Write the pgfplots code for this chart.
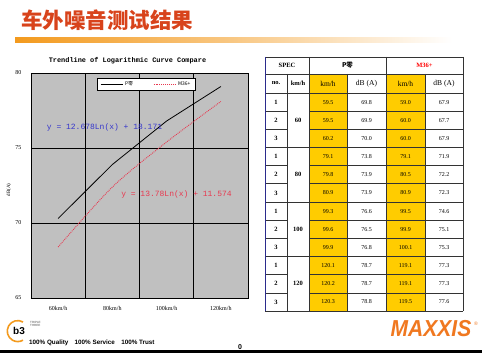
\documentclass[border=0pt]{standalone}
\usepackage{fontspec}
\setmainfont{Liberation Serif}
\setsansfont{Liberation Sans}
\setmonofont{Liberation Mono}
\newfontfamily\cjk{Noto Sans CJK SC}
\usepackage{pgfplots}
\pgfplotsset{compat=1.18}
\definecolor{titlered}{HTML}{D8431B}
\definecolor{barorange}{HTML}{F39A1E}
\definecolor{plotgray}{HTML}{C0C0C0}
\definecolor{eqblue}{HTML}{3535CC}
\definecolor{eqred}{HTML}{E8384F}
\definecolor{cellyellow}{HTML}{FFCC00}
\definecolor{maxxis}{HTML}{F07820}
\definecolor{navy}{HTML}{2B2B8C}
\begin{document}
\begin{tikzpicture}[x=1pt,y=1pt]
\path[use as bounding box,fill=white] (0,0) rectangle (482,353);
% slide title
\node[anchor=west,text=titlered,inner sep=0pt] at (21,333) {\cjk\bfseries\fontsize{21.5}{24}\selectfont 车外噪音测试结果};
\shade[left color=barorange,right color=white,middle color=barorange!55] (15,310) rectangle (452,315);
% chart title
\node at (127.5,292) {\ttfamily\bfseries\fontsize{6.9}{8}\selectfont Trendline of Logarithmic Curve Compare};
\node[rotate=90] at (9,163) {\fontsize{5}{6}\selectfont dB(A)};
\begin{axis}[at={(31pt,55pt)},anchor=south west,scale only axis,
  width=217pt,height=225pt,
  xmin=0.5,xmax=4.5,ymin=65,ymax=80,
  xtick={1,2,3,4},xticklabels={60km/h,80km/h,100km/h,120km/h},
  minor xtick={1.5,2.5,3.5},xminorgrids=true,xmajorgrids=false,
  ytick={65,70,75,80},ymajorgrids=true,
  grid style={black,line width=0.8pt},
  minor grid style={black,line width=0.8pt},
  tick style={draw=none},
  axis line style={black,line width=0.8pt},
  axis background/.style={fill=plotgray},
  /pgf/number format/assume math mode=true,
  tick label style={font=\fontsize{6}{7}\selectfont},
  xticklabel style={yshift=-5pt},
  yticklabel style={xshift=-6pt},
  legend columns=2,
  legend style={at={(0.304,0.978)},anchor=north west,draw=black,fill=white,
    line width=0.6pt,font=\cjk\fontsize{5}{6}\selectfont,inner ysep=1.5pt,
    /tikz/every even column/.append style={column sep=18pt}},
  legend image code/.code={\draw[#1] (0pt,0pt) -- (22pt,0pt);},
]
\addplot[black,line width=0.8pt] coordinates {(1,70.3) (2,73.9) (3,76.8) (4,79.1)};
\addlegendentry{P零}
\addplot[eqred,line width=0.9pt,densely dotted,smooth] coordinates {(1,68.4) (2,72.4) (3,75.4) (4,78.1)};
\addlegendentry{M36+}
\node[anchor=west,text=eqblue,inner sep=0pt] at (axis cs:0.79,76.4) {\ttfamily\fontsize{8}{9}\selectfont y = 12.678Ln(x) + 18.171};
\node[anchor=west,text=eqred,inner sep=0pt] at (axis cs:2.16,71.9) {\ttfamily\fontsize{8}{9}\selectfont y = 13.78Ln(x) + 11.574};
\end{axis}
% table
\fill[cellyellow] (309,279) rectangle (347,42);
\fill[cellyellow] (386,279) rectangle (425,42);
\begin{scope}[line width=0.7pt,draw=black!80]
\draw (265,296) -- (463,296);
\draw (265,279) -- (463,279);
\draw (265,260) -- (463,260);
\draw (265,42) -- (463,42);
\foreach \k in {1,...,11}{
  \pgfmathsetmacro\yy{260-18.17*\k}
  \pgfmathtruncatemacro\m{mod(\k,3)}
  \ifnum\m=0
    \draw (265,\yy) -- (463,\yy);
  \else
    \draw (265,\yy) -- (287,\yy);
    \draw (309,\yy) -- (463,\yy);
  \fi
}
\draw (287,279) -- (287,42);
\draw (309,296) -- (309,42);
\draw (347,279) -- (347,42);
\draw (386,296) -- (386,42);
\draw (425,279) -- (425,42);
\draw (463,296) -- (463,42);
\end{scope}
\draw[navy,line width=1pt] (265,296) -- (265,42);
\begin{scope}[font=\bfseries\fontsize{6.5}{7}\selectfont]
\node at (287,287.5) {SPEC};
\node at (347.5,287.5) {\cjk P零};
\node[text=red] at (424.5,287.5) {M36+};
\node at (276,269.5) {no.};
\node at (298,269.5) {km/h};
\node[font=\fontsize{7.5}{8}\selectfont] at (328,269.5) {km/h};
\node[font=\fontsize{7.5}{8}\selectfont] at (366.5,269.5) {dB (A)};
\node[font=\fontsize{7.5}{8}\selectfont] at (405.5,269.5) {km/h};
\node[font=\fontsize{7.5}{8}\selectfont] at (444,269.5) {dB (A)};
\foreach \s [count=\g from 0] in {60,80,100,120}{
  \pgfmathsetmacro\yy{260-18.17*(3*\g+1.5)}
  \node at (298,\yy) {\s};
}
\foreach \n/\a/\b/\c/\d [count=\k from 0] in {
  1/59.5/69.8/59.0/67.9, 2/59.5/69.9/60.0/67.7, 3/60.2/70.0/60.0/67.9,
  1/79.1/73.8/79.1/71.9, 2/79.8/73.9/80.5/72.2, 3/80.9/73.9/80.9/72.3,
  1/99.3/76.6/99.5/74.6, 2/99.6/76.5/99.9/75.1, 3/99.9/76.8/100.1/75.3,
  1/120.1/78.7/119.1/77.3, 2/120.2/78.7/119.1/77.3, 3/120.3/78.8/119.5/77.6}{
  \pgfmathsetmacro\yy{260-18.17*(\k+0.5)}
  \node at (276,\yy) {\n};
  \node[font=\mdseries\fontsize{6}{7}\selectfont] at (328,\yy) {\a};
  \node[font=\mdseries\fontsize{6}{7}\selectfont] at (366.5,\yy) {\b};
  \node[font=\mdseries\fontsize{6}{7}\selectfont] at (405.5,\yy) {\c};
  \node[font=\mdseries\fontsize{6}{7}\selectfont] at (444,\yy) {\d};
}
\end{scope}
% footer
\draw[barorange,line width=1.6pt] (23,31) arc (60:300:10.5);
\node[font=\sffamily\bfseries\fontsize{10}{11}\selectfont,inner sep=0pt] at (19,22.5) {b3};
\node[anchor=west,font=\sffamily\fontsize{3}{3.5}\selectfont,inner sep=0pt,align=left,text=black!70] at (30,29) {TRIPLE\\THREE};
\node[anchor=west,font=\sffamily\bfseries\fontsize{6.3}{7}\selectfont,inner sep=0pt] at (29,10) {100\% Quality\quad 100\% Service\quad 100\% Trust};
\node[font=\sffamily\bfseries\fontsize{7}{8}\selectfont] at (240,6) {0};
\node[font=\sffamily\bfseries\itshape\fontsize{21}{24}\selectfont,text=maxxis,inner sep=0pt,yscale=1.1] at (431,24) {MAXXIS};
\node[font=\sffamily\fontsize{5}{6}\selectfont,text=maxxis,inner sep=0pt] at (476,29) {®};
\fill[black] (0,0) rectangle (482,2.5);
\end{tikzpicture}
\end{document}
